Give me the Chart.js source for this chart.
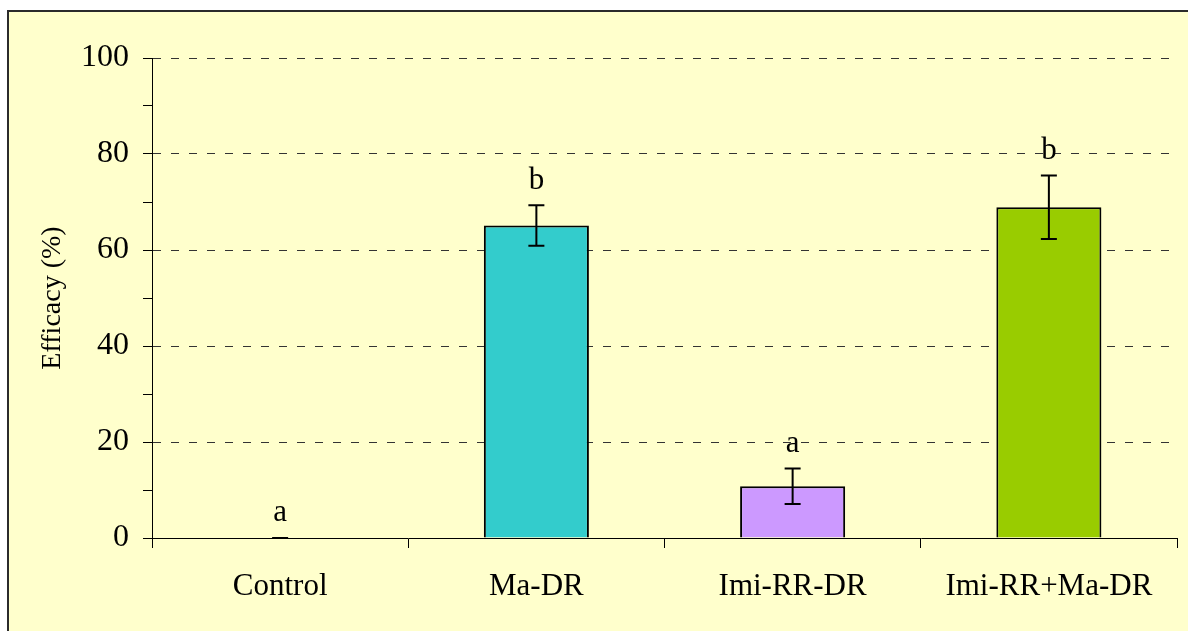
<!DOCTYPE html>
<html>
<head>
<meta charset="utf-8">
<title>Efficacy</title>
<script src="https://cdn.jsdelivr.net/npm/chart.js@4/dist/chart.umd.min.js"></script>
<style>
  html, body { margin: 0; padding: 0; background: #ffffff; }
  #wrap { width: 1188px; height: 631px; position: relative; }
</style>
</head>
<body>
<div id="wrap"><canvas id="efficacyChart" width="1188" height="631"></canvas></div>
<script>
// data
const categories = ['Control', 'Ma-DR', 'Imi-RR-DR', 'Imi-RR+Ma-DR'];
const efficacy = [0, 65.1, 10.8, 68.9];
const errors = [0, 4.2, 3.7, 6.6];
const letters = ['a', 'b', 'a', 'b'];
const barColors = ['#99CCFF', '#33CCCC', '#CC99FF', '#99CC00'];

const SERIF = '"Liberation Serif", "Times New Roman", serif';

// yellow panel with the dark frame on the top and left
const framePlugin = {
  id: 'frame',
  beforeDraw: (chart) => {
    const ctx = chart.ctx;
    ctx.save();
    ctx.fillStyle = '#ffffff';
    ctx.fillRect(0, 0, chart.width, chart.height);
    ctx.fillStyle = '#FFFFCC';
    ctx.fillRect(8, 11, chart.width, chart.height);
    ctx.strokeStyle = '#2b2b2b';
    ctx.lineWidth = 2;
    ctx.beginPath();
    ctx.moveTo(8, chart.height);
    ctx.lineTo(8, 11);
    ctx.lineTo(chart.width, 11);
    ctx.stroke();
    ctx.restore();
  },
};

// error bars and significance letters
const errorPlugin = {
  id: 'errorBars',
  afterDatasetsDraw: (chart) => {
    const ctx = chart.ctx;
    const yScale = chart.scales.y;
    const meta = chart.getDatasetMeta(0);
    ctx.save();
    meta.data.forEach((bar, i) => {
      const x = bar.x;
      const top = yScale.getPixelForValue(efficacy[i] + errors[i]);
      const bottom = yScale.getPixelForValue(efficacy[i] - errors[i]);
      ctx.strokeStyle = '#000000';
      ctx.lineWidth = 2;
      ctx.beginPath();
      ctx.moveTo(x, top);
      ctx.lineTo(x, bottom);
      ctx.moveTo(x - 8, top);
      ctx.lineTo(x + 8, top);
      ctx.moveTo(x - 8, bottom);
      ctx.lineTo(x + 8, bottom);
      ctx.stroke();

      ctx.fillStyle = '#000000';
      ctx.font = '31px ' + SERIF;
      ctx.textAlign = 'center';
      ctx.textBaseline = 'middle';
      ctx.fillText(letters[i], x, top - 25);
    });
    ctx.restore();
  },
};

new Chart(document.getElementById('efficacyChart'), {
  type: 'bar',
  data: {
    labels: categories,
    datasets: [{
      data: efficacy,
      backgroundColor: barColors,
      borderColor: '#000000',
      borderWidth: 2,
      borderSkipped: 'start',
      categoryPercentage: 1,
      barPercentage: 0.41,
    }],
  },
  options: {
    responsive: false,
    animation: false,
    devicePixelRatio: 1,
    layout: { padding: { left: 0, top: 58, right: 11, bottom: 0 } },
    plugins: {
      legend: { display: false },
      tooltip: { enabled: false },
    },
    scales: {
      x: {
        grid: {
          offset: true,
          drawOnChartArea: false,
          drawTicks: true,
          tickLength: 10,
          tickColor: '#000000',
          tickWidth: 1,
        },
        border: { display: true, color: '#000000', width: 1, z: 1 },
        ticks: {
          color: '#000000',
          font: { family: SERIF, size: 31 },
          padding: 20,
          maxRotation: 0,
        },
        afterFit: (scale) => { scale.height = 93; },
      },
      y: {
        min: 0,
        max: 100,
        ticks: {
          stepSize: 10,
          autoSkip: false,
          color: '#000000',
          font: { family: SERIF, size: 32 },
          padding: 14,
          callback: (value) => (value % 20 === 0 ? value : ''),
        },
        grid: {
          drawTicks: true,
          tickLength: 9,
          tickColor: '#000000',
          tickWidth: 1,
          lineWidth: 1,
          color: (ctx) => (ctx.tick && ctx.tick.value % 20 === 0 && ctx.tick.value > 0 ? '#333333' : 'rgba(0,0,0,0)'),
        },
        border: { display: true, color: '#000000', width: 1, dash: [8, 10] },
        title: {
          display: true,
          text: 'Efficacy (%)',
          color: '#000000',
          font: { family: SERIF, size: 28 },
          padding: { top: 36, bottom: 0 },
        },
        afterFit: (scale) => { scale.width = 152; },
      },
    },
  },
  plugins: [framePlugin, errorPlugin],
});
</script>
</body>
</html>
